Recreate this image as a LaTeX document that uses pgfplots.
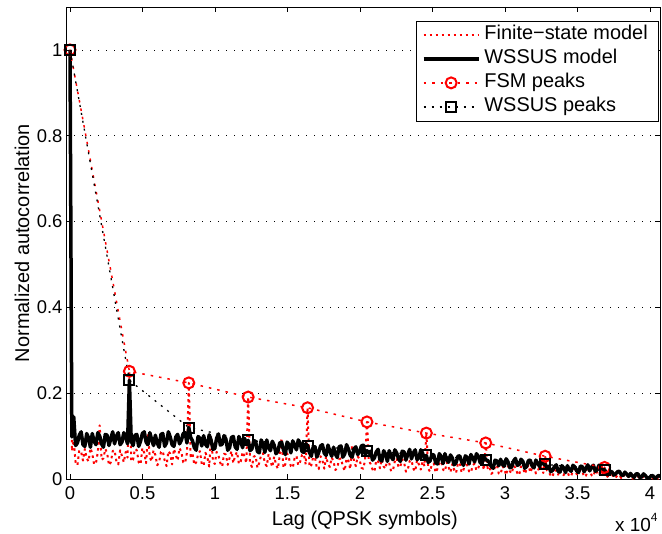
\documentclass[border=0pt]{standalone}
\usepackage{pgfplots}
\pgfplotsset{compat=1.18}
\usepackage{pgfplotstable}
\usepackage{fontspec}
\setmainfont{Liberation Sans}

\pgfplotstableread{
x b r
0 1.000 1.000
128 0.098 0.065
256 0.145 0.090
384 0.078 0.039
512 0.084 0.032
640 0.102 0.067
768 0.110 0.063
896 0.080 0.043
1024 0.076 0.070
1152 0.106 0.048
1280 0.096 0.041
1408 0.074 0.072
1536 0.106 0.059
1664 0.088 0.034
1792 0.080 0.037
1920 0.108 0.063
2048 0.100 0.125
2176 0.082 0.045
2304 0.074 0.048
2432 0.104 0.070
2560 0.102 0.061
2688 0.078 0.032
2816 0.094 0.039
2944 0.110 0.065
3072 0.082 0.067
3200 0.100 0.041
3328 0.108 0.034
3456 0.080 0.067
3584 0.086 0.054
3712 0.108 0.039
3840 0.098 0.063
3968 0.082 0.050
4096 0.230 0.251
4224 0.088 0.041
4352 0.078 0.045
4480 0.102 0.070
4608 0.104 0.067
4736 0.076 0.039
4864 0.088 0.034
4992 0.106 0.072
5120 0.110 0.061
5248 0.086 0.037
5376 0.080 0.105
5504 0.108 0.050
5632 0.092 0.041
5760 0.078 0.067
5888 0.102 0.056
6016 0.084 0.032
6144 0.074 0.039
6272 0.104 0.063
6400 0.106 0.065
6528 0.076 0.043
6656 0.084 0.030
6784 0.110 0.065
6912 0.098 0.059
7040 0.080 0.034
7168 0.076 0.070
7296 0.098 0.056
7424 0.104 0.043
7552 0.082 0.072
7680 0.090 0.063
7808 0.106 0.039
7936 0.108 0.037
8064 0.084 0.061
8192 0.120 0.224
8320 0.097 0.053
8448 0.089 0.059
8576 0.073 0.033
8704 0.067 0.039
8832 0.099 0.057
8960 0.095 0.065
9088 0.077 0.035
9216 0.101 0.031
9344 0.081 0.061
9472 0.075 0.051
9600 0.103 0.029
9728 0.091 0.100
9856 0.069 0.043
9984 0.071 0.035
10112 0.095 0.063
10240 0.105 0.055
10368 0.079 0.037
10496 0.081 0.029
10624 0.101 0.059
10752 0.093 0.057
10880 0.067 0.033
11008 0.073 0.049
11136 0.097 0.065
11264 0.099 0.037
11392 0.075 0.055
11520 0.069 0.063
11648 0.099 0.035
11776 0.087 0.041
11904 0.073 0.063
12032 0.095 0.053
12160 0.083 0.037
12288 0.090 0.191
12416 0.066 0.038
12544 0.070 0.028
12672 0.089 0.052
12800 0.088 0.054
12928 0.064 0.026
13056 0.061 0.038
13184 0.091 0.056
13312 0.082 0.060
13440 0.062 0.036
13568 0.091 0.030
13696 0.073 0.058
13824 0.066 0.042
13952 0.088 0.028
14080 0.079 0.052
14208 0.059 0.034
14336 0.064 0.024
14464 0.084 0.054
14592 0.086 0.095
14720 0.068 0.026
14848 0.057 0.034
14976 0.086 0.060
15104 0.080 0.048
15232 0.061 0.030
15360 0.089 0.026
15488 0.079 0.048
15616 0.068 0.054
15744 0.091 0.032
15872 0.084 0.040
16000 0.064 0.056
16128 0.062 0.058
16256 0.082 0.034
16384 0.078 0.166
16512 0.062 0.028
16640 0.053 0.032
16768 0.074 0.051
16896 0.075 0.050
17024 0.051 0.026
17152 0.062 0.023
17280 0.077 0.053
17408 0.080 0.044
17536 0.060 0.024
17664 0.055 0.053
17792 0.079 0.035
17920 0.065 0.028
18048 0.053 0.050
18176 0.074 0.041
18304 0.058 0.021
18432 0.050 0.026
18560 0.075 0.046
18688 0.077 0.048
18816 0.051 0.030
18944 0.058 0.019
19072 0.080 0.048
19200 0.070 0.042
19328 0.055 0.023
19456 0.051 0.080
19584 0.070 0.041
19712 0.075 0.030
19840 0.057 0.053
19968 0.063 0.046
20096 0.077 0.026
20224 0.079 0.024
20352 0.058 0.044
20480 0.066 0.133
20608 0.060 0.042
20736 0.065 0.035
20864 0.044 0.022
20992 0.049 0.017
21120 0.063 0.044
21248 0.069 0.041
21376 0.045 0.025
21504 0.042 0.046
21632 0.066 0.029
21760 0.058 0.024
21888 0.041 0.047
22016 0.066 0.037
22144 0.052 0.018
22272 0.045 0.020
22400 0.068 0.041
22528 0.061 0.049
22656 0.047 0.027
22784 0.041 0.029
22912 0.065 0.046
23040 0.063 0.039
23168 0.044 0.017
23296 0.057 0.022
23424 0.069 0.042
23552 0.047 0.044
23680 0.061 0.024
23808 0.068 0.018
23936 0.045 0.044
24064 0.050 0.034
24192 0.068 0.022
24320 0.060 0.041
24448 0.047 0.030
24576 0.055 0.107
24704 0.039 0.024
24832 0.042 0.017
24960 0.057 0.035
25088 0.056 0.036
25216 0.038 0.015
25344 0.035 0.024
25472 0.059 0.038
25600 0.052 0.041
25728 0.036 0.022
25856 0.059 0.018
25984 0.045 0.039
26112 0.039 0.027
26240 0.056 0.016
26368 0.049 0.035
26496 0.033 0.021
26624 0.038 0.014
26752 0.053 0.036
26880 0.054 0.038
27008 0.040 0.015
27136 0.032 0.021
27264 0.054 0.041
27392 0.050 0.032
27520 0.035 0.018
27648 0.057 0.015
27776 0.049 0.032
27904 0.040 0.036
28032 0.059 0.020
28160 0.053 0.026
28288 0.038 0.038
28416 0.036 0.039
28544 0.052 0.021
28672 0.045 0.084
28800 0.043 0.025
28928 0.038 0.029
29056 0.029 0.012
29184 0.025 0.016
29312 0.044 0.028
29440 0.042 0.033
29568 0.031 0.013
29696 0.046 0.011
29824 0.034 0.030
29952 0.030 0.024
30080 0.047 0.009
30208 0.040 0.030
30336 0.026 0.018
30464 0.028 0.013
30592 0.042 0.031
30720 0.048 0.026
30848 0.032 0.014
30976 0.034 0.009
31104 0.046 0.029
31232 0.041 0.028
31360 0.025 0.012
31488 0.029 0.022
31616 0.043 0.033
31744 0.044 0.015
31872 0.030 0.026
32000 0.026 0.031
32128 0.044 0.013
32256 0.037 0.017
32384 0.029 0.031
32512 0.042 0.025
32640 0.035 0.014
32768 0.034 0.053
32896 0.027 0.020
33024 0.030 0.016
33152 0.017 0.008
33280 0.020 0.005
33408 0.029 0.021
33536 0.033 0.019
33664 0.018 0.010
33792 0.016 0.022
33920 0.031 0.012
34048 0.026 0.009
34176 0.015 0.023
34304 0.031 0.017
34432 0.022 0.006
34560 0.018 0.007
34688 0.032 0.019
34816 0.028 0.024
34944 0.019 0.011
35072 0.015 0.012
35200 0.030 0.022
35328 0.029 0.018
35456 0.017 0.005
35584 0.025 0.008
35712 0.033 0.020
35840 0.019 0.021
35968 0.028 0.009
36096 0.032 0.006
36224 0.018 0.021
36352 0.021 0.015
36480 0.032 0.008
36608 0.027 0.019
36736 0.019 0.013
36864 0.022 0.027
36992 0.013 0.004
37120 0.010 0.007
37248 0.017 0.009
37376 0.017 0.011
37504 0.009 0.003
37632 0.012 0.003
37760 0.017 0.009
37888 0.018 0.009
38016 0.010 0.002
38144 0.008 0.010
38272 0.016 0.005
38400 0.011 0.003
38528 0.006 0.007
38656 0.013 0.006
38784 0.007 0.001
38912 0.004 0.002
39040 0.012 0.006
39168 0.012 0.006
39296 0.003 0.002
39424 0.005 0.001
39552 0.012 0.006
39680 0.008 0.004
39808 0.002 0.001
39936 0.002 0.005
40064 0.007 0.004
40192 0.008 0.001
40320 0.002 0.006
40448 0.004 0.004
40576 0.008 0.001
40704 0.007 0.001
40832 0.002 0.003
40960 0.003 0.002
}\modeltable

\pgfplotstableread{
x y
0 1.000
4096 0.251
8192 0.224
12288 0.191
16384 0.166
20480 0.133
24576 0.107
28672 0.084
32768 0.053
36864 0.027
}\fsmpeaks

\pgfplotstableread{
x y
0 1.000
4096 0.230
8192 0.120
12288 0.090
16384 0.078
20480 0.066
24576 0.055
28672 0.045
32768 0.034
36864 0.022
}\wssuspeaks

\begin{document}
\begin{tikzpicture}
\begin{axis}[
  name=ax,
  scale only axis,
  width=594bp, height=472bp,
  at={(0,0)}, anchor=south west,
  xmin=-276, xmax=40690, ymin=0, ymax=1.1,
  xtick={0,5000,10000,15000,20000,25000,30000,35000,40000},
  xticklabels={0,0.5,1,1.5,2,2.5,3,3.5,4},
  ytick={0,0.2,0.4,0.6,0.8,1},
  yticklabels={0,0.2,0.4,0.6,0.8,1},
  scaled x ticks=false,
  tick label style={font=\fontsize{18.5}{20}\selectfont},
  xticklabel style={yshift=-4bp},
  tick align=inside,
  major tick length=5bp,
  tick style={black, line width=0.8bp},
  axis line style={black, line width=0.8bp},
  ymajorgrids,
  major grid style={black, line width=0.7bp, dash pattern=on 0.8bp off 7.2bp},
  xlabel={Lag (QPSK symbols)},
  ylabel={Normalized autocorrelation},
  label style={font=\fontsize{20}{22}\selectfont},
  xlabel style={at={(axis description cs:0.503,0)}, anchor=base, yshift=-46bp},
  ylabel style={at={(axis description cs:-0.074,0.5)}, anchor=center},
  legend image code/.code={\draw[mark repeat=2,mark phase=2,#1] plot coordinates {(0bp,0bp) (27.5bp,0bp) (55bp,0bp)};},
  legend cell align=left,
  legend style={at={(rel axis cs:0.9966,0.971)}, anchor=north east, fill=white,
    font=\fontsize{20}{20}\selectfont, inner xsep=6bp, inner ysep=2bp, row sep=0bp,
    nodes={inner ysep=2.5bp, inner xsep=4bp, text height=14bp, text depth=5bp}},
]
\addplot[red, line width=2bp, dash pattern=on 2.5bp off 3.5bp, line join=round] table[x=x, y=r] {\modeltable};
\addlegendentry{Finite−state model}
\addplot[black, line width=3.5bp, line join=round] table[x=x, y=b] {\modeltable};
\addlegendentry{WSSUS model}
\addplot[red, line width=1.5bp, dash pattern=on 2.5bp off 6bp, mark=o, mark size=5.5bp, mark options={solid, line width=2bp}] table[x=x, y=y] {\fsmpeaks};
\addlegendentry{FSM peaks}
\addplot[black, line width=1.3bp, dash pattern=on 2bp off 6bp, mark=square, mark size=5bp, mark options={solid, line width=2bp}] table[x=x, y=y] {\wssuspeaks};
\addlegendentry{WSSUS peaks}
\end{axis}
\node[anchor=base west, inner sep=0pt, xshift=-45bp, yshift=-52bp, font=\fontsize{19}{20}\selectfont] at (ax.south east) {x 10\raisebox{0.5em}{\fontsize{12}{12}\selectfont 4}};
\pgfresetboundingbox
\path[use as bounding box] (-66bp,-55bp) rectangle (596bp,479bp);
\end{tikzpicture}
\end{document}
